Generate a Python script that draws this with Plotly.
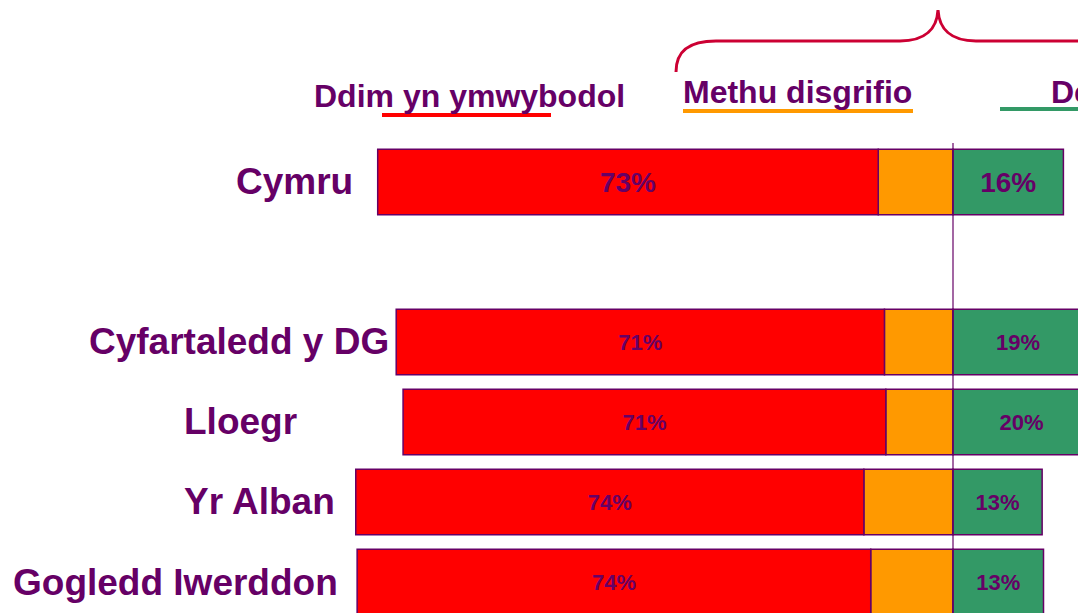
import plotly.graph_objects as go

# ---- data ----
categories = ["Cymru", " ", "Cyfartaledd y DG", "Lloegr", "Yr Alban", "Gogledd Iwerddon"]
bar_categories = ["Cymru", "Cyfartaledd y DG", "Lloegr", "Yr Alban", "Gogledd Iwerddon"]
unaware = [73.0, 71.2, 70.4, 74.1, 74.9]          # Ddim yn ymwybodol
cannot_describe = [10.9, 10.0, 9.8, 13.0, 12.0]  # Methu disgrifio
described = [16.1, 19.0, 20.0, 13.0, 13.2]       # De...
unaware_labels = ["73%", "71%", "71%", "74%", "74%"]
described_labels = ["16%", "19%", "20%", "13%", "13%"]
series_names = ["Ddim yn ymwybodol", "Methu disgrifio", "Deall yn gywir"]

# ---- style ----
W, H = 1078, 613
PURPLE = "#660066"
RED = "#FF0000"
ORANGE = "#FF9900"
GREEN = "#339966"
BRACE = "#CC0033"
FONT = "Liberation Sans, Arial, sans-serif"
value_sizes = [28, 22, 22, 22, 22]


def px(x):
    return x / W


def py(y):
    return 1 - y / H


fig = go.Figure()
fig.add_trace(go.Bar(
    y=bar_categories, x=[-v for v in cannot_describe], orientation="h",
    name=series_names[1], marker=dict(color=ORANGE, line=dict(color=PURPLE, width=1.5)),
    width=0.82, hoverinfo="skip"))
fig.add_trace(go.Bar(
    y=bar_categories, x=[-v for v in unaware], orientation="h",
    name=series_names[0], marker=dict(color=RED, line=dict(color=PURPLE, width=1.5)),
    width=0.82, text=unaware_labels, textposition="inside", insidetextanchor="middle",
    textangle=0, constraintext="none",
    textfont=dict(family=FONT, color=PURPLE, size=value_sizes, weight="bold"),
    hoverinfo="skip"))
fig.add_trace(go.Bar(
    y=bar_categories, x=described, orientation="h",
    name=series_names[2], marker=dict(color=GREEN, line=dict(color=PURPLE, width=1.5)),
    width=0.82, text=described_labels, textposition="inside", insidetextanchor="middle",
    textangle=0, constraintext="none",
    textfont=dict(family=FONT, color=PURPLE, size=value_sizes, weight="bold"),
    hoverinfo="skip"))

# category labels (right edges in px)
label_right = [353, 389, 297, 335, 338]
label_y = [182, 342, 422, 502, 583]
annotations = []
for name, xr, yc in zip(bar_categories, label_right, label_y):
    annotations.append(dict(
        text=f"<b>{name}</b>", xref="paper", yref="paper", x=px(xr + 2), y=py(yc - 1),
        xanchor="right", yanchor="middle", showarrow=False,
        font=dict(family=FONT, size=37, color=PURPLE)))

# legend-like headers
annotations.append(dict(text=f"<b>{series_names[0]}</b>", xref="paper", yref="paper",
                        x=px(469), y=py(96), xanchor="center", yanchor="middle", showarrow=False,
                        font=dict(family=FONT, size=32, color=PURPLE)))
annotations.append(dict(text=f"<b>{series_names[1]}</b>", xref="paper", yref="paper",
                        x=px(681), y=py(92), xanchor="left", yanchor="middle", showarrow=False,
                        font=dict(family=FONT, size=32, color=PURPLE)))
annotations.append(dict(text=f"<b>{series_names[2]}</b>", xref="paper", yref="paper",
                        x=px(1049), y=py(92), xanchor="left", yanchor="middle", showarrow=False,
                        font=dict(family=FONT, size=32, color=PURPLE)))

shapes = [
    # zero line
    dict(type="line", xref="x", yref="paper", x0=0, x1=0, y0=py(143), y1=0,
         line=dict(color=PURPLE, width=1.2), layer="above"),
    # header underlines
    dict(type="line", xref="paper", yref="paper", x0=px(382), x1=px(551), y0=py(115), y1=py(115),
         line=dict(color=RED, width=4)),
    dict(type="line", xref="paper", yref="paper", x0=px(683), x1=px(913), y0=py(111), y1=py(111),
         line=dict(color=ORANGE, width=4)),
    dict(type="line", xref="paper", yref="paper", x0=px(1000), x1=px(1090), y0=py(109), y1=py(109),
         line=dict(color=GREEN, width=4)),
]

# brace
pts = [("M", [(676, 72)]),
       ("C", [(676, 50), (690, 41), (716, 41)]),
       ("L", [(900, 41)]),
       ("C", [(926, 41), (937, 28), (938, 10)]),
       ("C", [(939, 28), (950, 41), (976, 41)]),
       ("L", [(1100, 41)])]
path = " ".join(cmd + " " + " ".join(f"{px(x):.5f},{py(y):.5f}" for x, y in p) for cmd, p in pts)
shapes.append(dict(type="path", xref="paper", yref="paper", path=path,
                   line=dict(color=BRACE, width=3)))

zero_px, unit_px = 953, 6.857
fig.update_layout(
    width=W, height=H, margin=dict(l=0, r=0, t=0, b=0),
    paper_bgcolor="white", plot_bgcolor="white",
    barmode="relative", showlegend=False,
    xaxis=dict(range=[-zero_px / unit_px, (W - zero_px) / unit_px], visible=False,
               showgrid=False, zeroline=False),
    yaxis=dict(type="category", categoryorder="array", categoryarray=categories,
               range=[5 + (H - 582) / 80, -182 / 80], visible=False, showgrid=False),
    annotations=annotations, shapes=shapes,
)

fig.write_html("out.html", config={"displayModeBar": False},
               post_script="document.body.style.margin='0';document.body.style.overflow='hidden';")
